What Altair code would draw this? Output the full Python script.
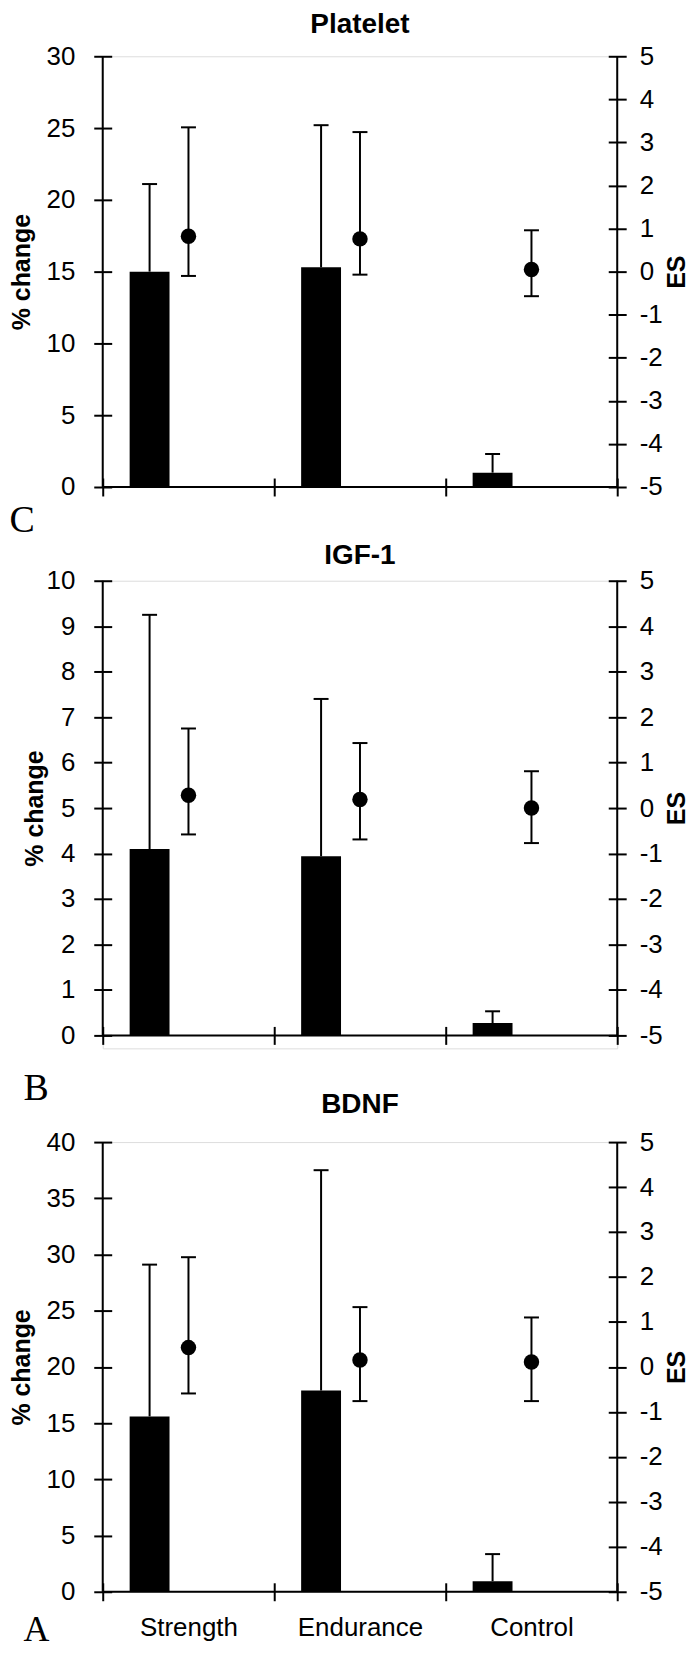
import altair as alt
import pandas as pd

groups = ["Strength", "Endurance", "Control"]

# Panel C: Platelet
platelet_pct = [15.0, 15.3, 1.0]
platelet_pct_upper = [21.1, 25.2, 2.3]
platelet_es = [0.82, 0.76, 0.05]
platelet_es_lower = [-0.10, -0.07, -0.57]
platelet_es_upper = [3.35, 3.24, 0.96]

# Panel B: IGF-1
igf_pct = [4.1, 3.94, 0.27]
igf_pct_upper = [9.25, 7.40, 0.53]
igf_es = [0.28, 0.19, 0.0]
igf_es_lower = [-0.58, -0.69, -0.77]
igf_es_upper = [1.75, 1.43, 0.81]

# Panel A: BDNF
bdnf_pct = [15.6, 17.9, 0.94]
bdnf_pct_upper = [29.1, 37.5, 3.35]
bdnf_es = [0.43, 0.155, 0.11]
bdnf_es_lower = [-0.59, -0.76, -0.76]
bdnf_es_upper = [2.44, 1.33, 1.10]

FONT = "Liberation Sans"
SERIF = "Liberation Serif"
W = 516
BAR_SHIFT = -39


def panel(title, pct, pct_up, es, es_lo, es_up, ymax, ystep, h, letter,
          ytitle_x, letter_x, letter_y, letter_size, title_offset,
          bottom=False, pad_bottom=0):
    df = pd.DataFrame({"group": groups, "pct": pct, "pct_up": pct_up,
                       "es": es, "es_lo": es_lo, "es_up": es_up})
    base = alt.Chart(df)
    H = h + pad_bottom

    xaxis = alt.Axis(
        title=letter, offset=-(9 + pad_bottom), domain=False, tickSize=18,
        tickWidth=2, tickColor="black", tickBand="extent", labels=bottom,
        labelAngle=0, labelFont=FONT, labelFontSize=26, labelColor="black",
        labelPadding=14, titleFont=SERIF, titleFontSize=letter_size,
        titleFontWeight="normal", titleColor="black", titleAlign="left",
        titleBaseline="middle", titleX=letter_x, titleY=letter_y, grid=False)
    x = alt.X("group:N", sort=groups,
              scale=alt.Scale(paddingInner=0, paddingOuter=0), axis=xaxis)

    left_axis = alt.Axis(
        orient="left", values=list(range(0, ymax + 1, ystep)), offset=-9,
        domain=False, tickSize=18, tickWidth=2, tickColor="black",
        labelFont=FONT, labelFontSize=26, labelColor="black", labelPadding=19,
        labelOverlap=False, title="% change", titleFont=FONT, titleFontSize=25,
        titleFontWeight="bold", titleColor="black", titleAngle=270,
        titleX=ytitle_x, titleY=h / 2, titleAlign="center",
        titleBaseline="middle", grid=False)
    yscale_l = alt.Scale(domain=[0, ymax], nice=False, zero=True,
                         range=[h, 0])

    right_axis = alt.Axis(
        orient="right", values=list(range(-5, 6)), offset=-9,
        domain=False, tickSize=18, tickWidth=2, tickColor="black",
        labelFont=FONT, labelFontSize=26, labelColor="black", labelPadding=13,
        labelOverlap=False, labelExpr="'' + datum.value",
        title="ES", titleFont=FONT, titleFontSize=25,
        titleFontWeight="bold", titleColor="black", titleAngle=270,
        titleX=68, titleY=h / 2, titleAlign="center",
        titleBaseline="middle", grid=False)
    yscale_r = alt.Scale(domain=[-5, 5], nice=False, zero=False,
                         range=[h, 0])

    bars = base.mark_bar(width=40, xOffset=BAR_SHIFT, color="black").encode(
        x=x, y=alt.Y("pct:Q", scale=yscale_l, axis=left_axis))
    bar_err = base.mark_rule(xOffset=BAR_SHIFT, color="black", strokeWidth=2).encode(
        x=x, y="pct:Q", y2="pct_up:Q")
    bar_cap = base.mark_tick(xOffset=BAR_SHIFT, color="black", size=15,
                             thickness=2, opacity=1).encode(
        x=x, y="pct_up:Q")
    left_layer = alt.layer(bars, bar_err, bar_cap)

    es_err = base.mark_rule(color="black", strokeWidth=2).encode(
        x=x, y=alt.Y("es_lo:Q", scale=yscale_r, axis=right_axis), y2="es_up:Q")
    es_cap_lo = base.mark_tick(color="black", size=15, thickness=2,
                               opacity=1).encode(x=x, y="es_lo:Q")
    es_cap_hi = base.mark_tick(color="black", size=15, thickness=2,
                               opacity=1).encode(x=x, y="es_up:Q")
    points = base.mark_circle(size=240, color="black", opacity=1).encode(
        x=x, y="es:Q")
    right_layer = alt.layer(es_err, es_cap_lo, es_cap_hi, points)

    one = alt.Chart(pd.DataFrame({"k": [0]}))
    dom_left = one.mark_rule(color="black", strokeWidth=2).encode(
        x=alt.value(0), y=alt.value(0), y2=alt.value(h))
    dom_right = one.mark_rule(color="black", strokeWidth=2).encode(
        x=alt.value(W), y=alt.value(0), y2=alt.value(h))
    dom_bottom = one.mark_rule(color="black", strokeWidth=2).encode(
        y=alt.value(h), x=alt.value(0), x2=alt.value(W))

    return alt.layer(left_layer, right_layer, dom_left, dom_right, dom_bottom).resolve_scale(
        y="independent").properties(
        width=W, height=H,
        title=alt.Title(text=title, font=FONT, fontSize=28, fontWeight="bold",
                        color="black", anchor="middle", offset=title_offset))


p1 = panel("Platelet", platelet_pct, platelet_pct_upper, platelet_es,
           platelet_es_lower, platelet_es_upper, 30, 5, 432, "C",
           -90, -94, 43, 38, 4)
p2 = panel("IGF-1", igf_pct, igf_pct_upper, igf_es, igf_es_lower,
           igf_es_upper, 10, 1, 456, "B", -77, -80, 62, 38, -2,
           pad_bottom=13)
p3 = panel("BDNF", bdnf_pct, bdnf_pct_upper, bdnf_es, bdnf_es_lower,
           bdnf_es_upper, 40, 5, 451, "A", -90, -80, 47, 36, 10, bottom=True)

chart = alt.vconcat(p1, p2, p3, spacing=94, bounds="flush").properties(
    padding=0
).configure_view(stroke=None).configure_axis(grid=False).configure(
    background="white")

chart.save("out.html", embed_options={"renderer": "svg", "actions": False})
